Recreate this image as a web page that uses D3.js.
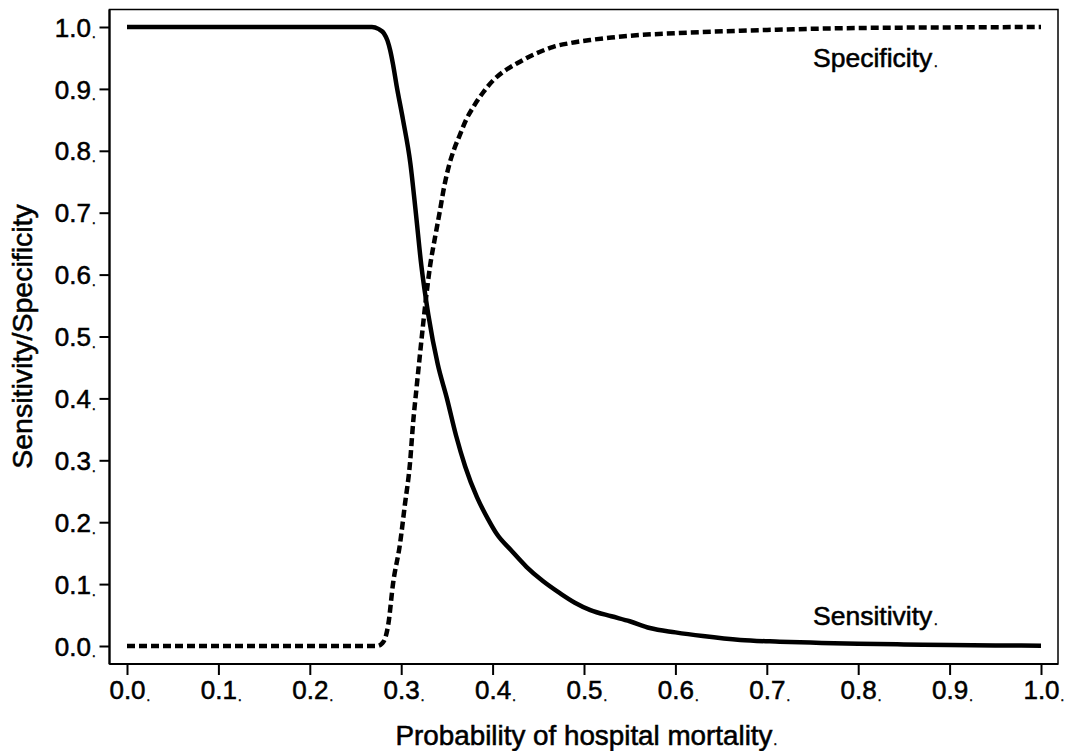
<!DOCTYPE html>
<html>
<head>
<meta charset="utf-8">
<script src="https://cdn.jsdelivr.net/npm/d3@7"></script>
<style>
  html, body { margin: 0; padding: 0; background: #fff; }
  svg { display: block; }
  text { font-family: "Liberation Sans", Arial, sans-serif; fill: #000; stroke: #000; stroke-width: 0.55px; }
</style>
</head>
<body>
<svg id="chart" width="1067" height="751"></svg>
<script>
// ---- Data ----
const xTicks = [0.0, 0.1, 0.2, 0.3, 0.4, 0.5, 0.6, 0.7, 0.8, 0.9, 1.0];
const yTicks = [0.0, 0.1, 0.2, 0.3, 0.4, 0.5, 0.6, 0.7, 0.8, 0.9, 1.0];
const xTickLabels = ["0.0", "0.1", "0.2", "0.3", "0.4", "0.5", "0.6", "0.7", "0.8", "0.9", "1.0"];
const yTickLabels = ["0.0", "0.1", "0.2", "0.3", "0.4", "0.5", "0.6", "0.7", "0.8", "0.9", "1.0"];

// Sensitivity (solid line): probability threshold vs sensitivity
const sensProb = [0.0, 0.268, 0.275, 0.281, 0.285, 0.288, 0.291, 0.295, 0.302, 0.31, 0.316, 0.322,
  0.3297, 0.34, 0.35, 0.36, 0.37, 0.383, 0.395, 0.405, 0.42, 0.437, 0.455, 0.474, 0.49, 0.507,
  0.53, 0.55, 0.572, 0.6, 0.63, 0.671, 0.714, 0.76, 0.8, 0.85, 0.9, 0.95, 1.0];
const sensVal = [1.0, 1.0, 0.997, 0.99, 0.978, 0.962, 0.94, 0.905, 0.85, 0.78, 0.7, 0.615,
  0.535, 0.455, 0.4, 0.34, 0.29, 0.24, 0.205, 0.18, 0.155, 0.128, 0.105, 0.085, 0.07, 0.058,
  0.048, 0.04, 0.029, 0.022, 0.016, 0.0097, 0.007, 0.005, 0.0035, 0.0025, 0.0015, 0.001, 0.0003];

// Specificity (dashed line)
const specProb = [0.0, 0.274, 0.279, 0.283, 0.286, 0.291, 0.2987, 0.304, 0.3096, 0.313, 0.317,
  0.3206, 0.324, 0.327, 0.3315, 0.337, 0.342, 0.347, 0.353, 0.358, 0.364, 0.371, 0.379, 0.39,
  0.4008, 0.413, 0.4264, 0.44, 0.452, 0.4664, 0.485, 0.507, 0.53, 0.561, 0.6, 0.671, 0.72,
  0.78, 0.85, 0.92, 1.0];
const specVal = [0.0, 0.0, 0.004, 0.015, 0.036, 0.1, 0.165, 0.228, 0.295, 0.36, 0.42,
  0.472, 0.52, 0.56, 0.613, 0.66, 0.7, 0.742, 0.78, 0.803, 0.825, 0.85, 0.871, 0.895,
  0.914, 0.929, 0.941, 0.952, 0.96, 0.968, 0.974, 0.979, 0.983, 0.987, 0.99, 0.994, 0.996,
  0.998, 0.999, 0.9995, 1.0];

const seriesLabels = ["Specificity", "Sensitivity"];
const xTitle = "Probability of hospital mortality";
const yTitle = "Sensitivity/Specificity";

// ---- Layout ----
const frame = { left: 109.5, top: 9.5, right: 1058, bottom: 664 };
const svg = d3.select("#chart");

const x = d3.scaleLinear().domain([0, 1]).range([127, 1041]);
const y = d3.scaleLinear().domain([0, 1]).range([646, 27]);

const FS = 26;

// frame
svg.append("rect")
  .attr("x", frame.left).attr("y", frame.top)
  .attr("width", frame.right - frame.left).attr("height", frame.bottom - frame.top)
  .attr("fill", "none").attr("stroke", "#000").attr("stroke-width", 1.5);

// Y axis
const yAxis = d3.axisLeft(y).tickValues(yTicks).tickSize(10).tickFormat((d, i) => yTickLabels[i]);
const gy = svg.append("g").attr("transform", `translate(${frame.left},0)`).call(yAxis);
gy.select(".domain").attr("stroke-width", 2.2).attr("d", `M0,${frame.top}V${frame.bottom}`);
gy.selectAll(".tick line").attr("stroke-width", 2);
gy.selectAll(".tick text")
  .attr("font-size", FS)
  .attr("font-family", "Liberation Sans, Arial, sans-serif")
  .attr("x", -18.5)
  .attr("dy", "0.35em");
gy.selectAll(".tick").each(function () {
  const t = d3.select(this).select("text").node();
  const bb = t.getBBox();
  d3.select(this).append("text")
    .attr("x", bb.x + bb.width + 1)
    .attr("y", bb.y + bb.height * 0.86)
    .attr("font-size", 13)
    .attr("text-anchor", "start")
    .text(".");
});

// X axis
const xAxis = d3.axisBottom(x).tickValues(xTicks).tickSize(11).tickFormat((d, i) => xTickLabels[i]);
const gx = svg.append("g").attr("transform", `translate(0,${frame.bottom})`).call(xAxis);
gx.select(".domain").attr("stroke-width", 2.2).attr("d", `M${frame.left},0H${frame.right}`);
gx.selectAll(".tick line").attr("stroke-width", 2);
gx.selectAll(".tick text")
  .attr("font-size", FS)
  .attr("font-family", "Liberation Sans, Arial, sans-serif")
  .attr("y", 17)
  .attr("dy", "0.71em");
gx.selectAll(".tick").each(function () {
  const t = d3.select(this).select("text").node();
  const bb = t.getBBox();
  d3.select(this).append("text")
    .attr("x", bb.x + bb.width + 1)
    .attr("y", bb.y + bb.height * 0.86)
    .attr("font-size", 13)
    .attr("text-anchor", "start")
    .text(".");
});

// Lines
const line = d3.line().x(d => x(d[0])).y(d => y(d[1])).curve(d3.curveMonotoneX);
const sensData = sensProb.map((p, i) => [p, sensVal[i]]);
const specData = specProb.map((p, i) => [p, specVal[i]]);

svg.append("path").datum(specData)
  .attr("d", line).attr("fill", "none").attr("stroke", "#000")
  .attr("stroke-width", 4.5).attr("stroke-dasharray", "8,4");

svg.append("path").datum(sensData)
  .attr("d", line).attr("fill", "none").attr("stroke", "#000")
  .attr("stroke-width", 4.5).attr("stroke-linejoin", "round");

// Series labels with trailing small dot
function labelWithDot(txt, lx, ly, anchor, fs) {
  const t = svg.append("text").attr("x", lx).attr("y", ly)
    .attr("font-size", fs || FS).attr("text-anchor", anchor || "start").text(txt);
  const bb = t.node().getBBox();
  svg.append("text").attr("x", bb.x + bb.width + 1).attr("y", ly)
    .attr("font-size", 13).text(".");
  return t;
}
labelWithDot(seriesLabels[0], 813, 67, "start", 26.5);
labelWithDot(seriesLabels[1], 813, 625, "start", 26.5);

// Axis titles
labelWithDot(xTitle, (x(0) + x(1)) / 2, 745, "middle", 27.8);

svg.append("text")
  .attr("transform", `translate(32,${(y(0) + y(1)) / 2}) rotate(-90)`)
  .attr("font-size", 28.5).attr("text-anchor", "middle").text(yTitle);
</script>
</body>
</html>
